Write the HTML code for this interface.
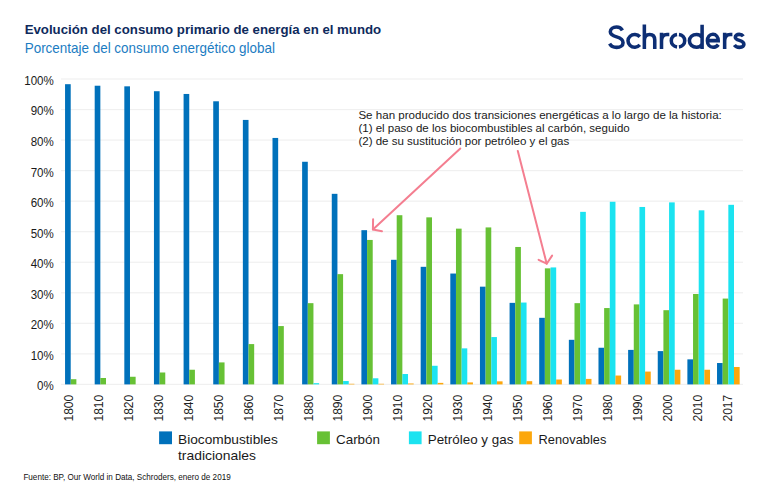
<!DOCTYPE html>
<html><head><meta charset="utf-8">
<style>
html,body{margin:0;padding:0;background:#fff;}
body{width:770px;height:488px;overflow:hidden;position:relative;font-family:"Liberation Sans",sans-serif;}
svg{position:absolute;left:0;top:0;}
svg text{font-family:"Liberation Sans",sans-serif;}
.yl{font-size:11.9px;fill:#1a1a1a;text-anchor:end;}
.xl{font-size:12.1px;fill:#222;}
.ann{font-size:11.55px;fill:#1a1a1a;}
.leg{font-size:13.5px;fill:#1a1a1a;}
</style></head>
<body>
<svg width="770" height="488" viewBox="0 0 770 488">
<rect width="770" height="488" fill="#fff"/>
<text x="24.7" y="34.2" font-size="13.6" font-weight="bold" fill="#0e2a5c" textLength="356.5" lengthAdjust="spacingAndGlyphs">Evolución del consumo primario de energía en el mundo</text>
<text x="24.7" y="52.8" font-size="13.9" fill="#1b7cc2" textLength="250.3" lengthAdjust="spacingAndGlyphs">Porcentaje del consumo energético global</text>
<g fill="none" stroke="#0d2e74" stroke-width="3.55" stroke-linecap="butt" stroke-linejoin="miter">
<path d="M622.4 30.4 C621.3 28.3 619.1 27.05 616.5 27.05 C613 27.05 610.3 28.9 610.3 31.8 C610.3 34.9 613.2 35.9 616.6 36.9 C620.6 38 623.05 39.4 623.05 42.7 C623.05 45.7 620.3 47.35 616.6 47.35 C613.4 47.35 610.9 45.9 609.6 43.6"/>
<path d="M639.83 36.77 A6.7 6.35 0 1 0 639.83 44.93"/>
<path d="M644.35 24.4 V49 M644.35 40.5 C644.35 36.3 646.6 34.4 649.7 34.4 C653 34.4 654.75 36.4 654.75 40 V49"/>
<path d="M661.5 32.7 V49 M661.5 41 C661.5 36.6 663.6 34.4 667 34.4 H669.3"/>
<path d="M678.95 34.46 A6.7 6.3 0 0 1 678.95 46.94 M677.05 34.46 A6.7 6.3 0 0 0 677.05 46.94"/>
<path d="M702.1 24.8 V49 M702.1 37.6 C700.9 35.4 698.9 34.4 696.6 34.4 C692.4 34.4 689.4 37.3 689.4 40.85 C689.4 44.4 692.4 47.3 696.6 47.3 C698.9 47.3 700.9 46.3 702.1 44.1"/>
<path d="M707.4 40.6 H718.2 C718.2 36.9 716 34.3 712.9 34.3 C709.7 34.3 707.4 37.2 707.4 40.85 C707.4 44.5 709.8 47.3 713 47.3 C715.3 47.3 717 46.4 718.3 44.6"/>
<path d="M724.65 32.7 V49 M724.65 41 C724.65 36.6 726.8 34.4 730.2 34.4 H732.4"/>
<path d="M743.3 36.3 C742.4 35 740.9 34.35 739.2 34.35 C736.9 34.35 735.3 35.6 735.3 37.3 C735.3 39.2 737.2 39.8 739.4 40.4 C742 41.1 743.9 42 743.9 44.3 C743.9 46.2 742 47.35 739.4 47.35 C737.3 47.35 735.4 46.5 734.4 45"/>
</g>

<rect x="61" y="383.8" width="682" height="1.2" fill="#f0f0f0"/>
<rect x="61" y="353.26" width="682" height="1.2" fill="#f0f0f0"/>
<rect x="61" y="322.72" width="682" height="1.2" fill="#f0f0f0"/>
<rect x="61" y="292.18" width="682" height="1.2" fill="#f0f0f0"/>
<rect x="61" y="261.64" width="682" height="1.2" fill="#f0f0f0"/>
<rect x="61" y="231.1" width="682" height="1.2" fill="#f0f0f0"/>
<rect x="61" y="200.56" width="682" height="1.2" fill="#f0f0f0"/>
<rect x="61" y="170.02" width="682" height="1.2" fill="#f0f0f0"/>
<rect x="61" y="139.48" width="682" height="1.2" fill="#f0f0f0"/>
<rect x="61" y="108.94" width="682" height="1.2" fill="#f0f0f0"/>
<rect x="61" y="78.4" width="682" height="1.2" fill="#f0f0f0"/>
<text transform="translate(53.8,390.3) scale(0.97,1)" class="yl">0%</text>
<text transform="translate(53.8,359.76) scale(0.97,1)" class="yl">10%</text>
<text transform="translate(53.8,329.22) scale(0.97,1)" class="yl">20%</text>
<text transform="translate(53.8,298.68) scale(0.97,1)" class="yl">30%</text>
<text transform="translate(53.8,268.14) scale(0.97,1)" class="yl">40%</text>
<text transform="translate(53.8,237.6) scale(0.97,1)" class="yl">50%</text>
<text transform="translate(53.8,207.06) scale(0.97,1)" class="yl">60%</text>
<text transform="translate(53.8,176.52) scale(0.97,1)" class="yl">70%</text>
<text transform="translate(53.8,145.98) scale(0.97,1)" class="yl">80%</text>
<text transform="translate(53.8,115.44) scale(0.97,1)" class="yl">90%</text>
<text transform="translate(53.8,84.9) scale(0.97,1)" class="yl">100%</text>
<rect x="65.05" y="84.19" width="5.66" height="300.21" fill="#0071bb"/>
<rect x="70.71" y="379.21" width="5.66" height="5.19" fill="#67c135"/>
<rect x="94.69" y="85.72" width="5.66" height="298.68" fill="#0071bb"/>
<rect x="100.34" y="377.99" width="5.66" height="6.41" fill="#67c135"/>
<rect x="124.32" y="86.33" width="5.66" height="298.07" fill="#0071bb"/>
<rect x="129.98" y="376.76" width="5.66" height="7.63" fill="#67c135"/>
<rect x="153.95" y="91.22" width="5.66" height="293.18" fill="#0071bb"/>
<rect x="159.61" y="372.49" width="5.66" height="11.91" fill="#67c135"/>
<rect x="183.59" y="93.96" width="5.66" height="290.44" fill="#0071bb"/>
<rect x="189.25" y="369.74" width="5.66" height="14.66" fill="#67c135"/>
<rect x="213.23" y="101.29" width="5.66" height="283.11" fill="#0071bb"/>
<rect x="218.89" y="362.41" width="5.66" height="21.99" fill="#67c135"/>
<rect x="242.86" y="119.92" width="5.66" height="264.48" fill="#0071bb"/>
<rect x="248.52" y="344.09" width="5.66" height="40.31" fill="#67c135"/>
<rect x="272.5" y="137.94" width="5.66" height="246.46" fill="#0071bb"/>
<rect x="278.16" y="326.07" width="5.66" height="58.33" fill="#67c135"/>
<rect x="302.13" y="161.76" width="5.66" height="222.64" fill="#0071bb"/>
<rect x="307.79" y="303.16" width="5.66" height="81.24" fill="#67c135"/>
<rect x="313.45" y="383.18" width="5.66" height="1.22" fill="#1be3f0"/>
<rect x="331.77" y="193.83" width="5.66" height="190.57" fill="#0071bb"/>
<rect x="337.43" y="274.15" width="5.66" height="110.25" fill="#67c135"/>
<rect x="343.09" y="381.04" width="5.66" height="3.36" fill="#1be3f0"/>
<rect x="348.75" y="383.79" width="5.66" height="0.61" fill="#fca70c"/>
<rect x="361.4" y="230.17" width="5.66" height="154.23" fill="#0071bb"/>
<rect x="367.06" y="239.95" width="5.66" height="144.45" fill="#67c135"/>
<rect x="372.72" y="378.29" width="5.66" height="6.11" fill="#1be3f0"/>
<rect x="378.38" y="383.79" width="5.66" height="0.61" fill="#fca70c"/>
<rect x="391.04" y="259.8" width="5.66" height="124.6" fill="#0071bb"/>
<rect x="396.7" y="215.21" width="5.66" height="169.19" fill="#67c135"/>
<rect x="402.36" y="374.02" width="5.66" height="10.38" fill="#1be3f0"/>
<rect x="408.02" y="383.48" width="5.66" height="0.92" fill="#fca70c"/>
<rect x="420.67" y="266.82" width="5.66" height="117.58" fill="#0071bb"/>
<rect x="426.33" y="217.35" width="5.66" height="167.05" fill="#67c135"/>
<rect x="431.99" y="365.77" width="5.66" height="18.63" fill="#1be3f0"/>
<rect x="437.65" y="382.87" width="5.66" height="1.53" fill="#fca70c"/>
<rect x="450.31" y="273.54" width="5.66" height="110.86" fill="#0071bb"/>
<rect x="455.97" y="228.65" width="5.66" height="155.75" fill="#67c135"/>
<rect x="461.62" y="348.36" width="5.66" height="36.04" fill="#1be3f0"/>
<rect x="467.29" y="382.41" width="5.66" height="1.99" fill="#fca70c"/>
<rect x="479.94" y="286.67" width="5.66" height="97.73" fill="#0071bb"/>
<rect x="485.6" y="227.42" width="5.66" height="156.98" fill="#67c135"/>
<rect x="491.26" y="337.06" width="5.66" height="47.34" fill="#1be3f0"/>
<rect x="496.92" y="381.35" width="5.66" height="3.05" fill="#fca70c"/>
<rect x="509.58" y="302.86" width="5.66" height="81.54" fill="#0071bb"/>
<rect x="515.24" y="246.97" width="5.66" height="137.43" fill="#67c135"/>
<rect x="520.9" y="302.55" width="5.66" height="81.85" fill="#1be3f0"/>
<rect x="526.56" y="381.19" width="5.66" height="3.21" fill="#fca70c"/>
<rect x="539.21" y="317.82" width="5.66" height="66.58" fill="#0071bb"/>
<rect x="544.87" y="268.35" width="5.66" height="116.05" fill="#67c135"/>
<rect x="550.53" y="267.43" width="5.66" height="116.97" fill="#1be3f0"/>
<rect x="556.19" y="379.51" width="5.66" height="4.89" fill="#fca70c"/>
<rect x="568.85" y="339.81" width="5.66" height="44.59" fill="#0071bb"/>
<rect x="574.5" y="303.16" width="5.66" height="81.24" fill="#67c135"/>
<rect x="580.17" y="211.85" width="5.66" height="172.55" fill="#1be3f0"/>
<rect x="585.83" y="378.9" width="5.66" height="5.5" fill="#fca70c"/>
<rect x="598.48" y="347.75" width="5.66" height="36.65" fill="#0071bb"/>
<rect x="604.14" y="308.05" width="5.66" height="76.35" fill="#67c135"/>
<rect x="609.8" y="201.77" width="5.66" height="182.63" fill="#1be3f0"/>
<rect x="615.46" y="375.54" width="5.66" height="8.86" fill="#fca70c"/>
<rect x="628.12" y="349.89" width="5.66" height="34.51" fill="#0071bb"/>
<rect x="633.77" y="304.39" width="5.66" height="80.01" fill="#67c135"/>
<rect x="639.44" y="206.96" width="5.66" height="177.44" fill="#1be3f0"/>
<rect x="645.1" y="371.57" width="5.66" height="12.83" fill="#fca70c"/>
<rect x="657.75" y="351.11" width="5.66" height="33.29" fill="#0071bb"/>
<rect x="663.41" y="310.19" width="5.66" height="74.21" fill="#67c135"/>
<rect x="669.07" y="202.38" width="5.66" height="182.02" fill="#1be3f0"/>
<rect x="674.73" y="369.74" width="5.66" height="14.66" fill="#fca70c"/>
<rect x="687.38" y="359.36" width="5.66" height="25.04" fill="#0071bb"/>
<rect x="693.04" y="294" width="5.66" height="90.4" fill="#67c135"/>
<rect x="698.71" y="210.32" width="5.66" height="174.08" fill="#1be3f0"/>
<rect x="704.37" y="369.74" width="5.66" height="14.66" fill="#fca70c"/>
<rect x="717.02" y="363.02" width="5.66" height="21.38" fill="#0071bb"/>
<rect x="722.68" y="298.58" width="5.66" height="85.82" fill="#67c135"/>
<rect x="728.34" y="204.82" width="5.66" height="179.58" fill="#1be3f0"/>
<rect x="734" y="366.99" width="5.66" height="17.41" fill="#fca70c"/>
<text transform="translate(72.85,421.6) rotate(-90)" class="xl">1800</text>
<text transform="translate(102.81,421.6) rotate(-90)" class="xl">1810</text>
<text transform="translate(132.77,421.6) rotate(-90)" class="xl">1820</text>
<text transform="translate(162.73,421.6) rotate(-90)" class="xl">1830</text>
<text transform="translate(192.69,421.6) rotate(-90)" class="xl">1840</text>
<text transform="translate(222.65,421.6) rotate(-90)" class="xl">1850</text>
<text transform="translate(252.61,421.6) rotate(-90)" class="xl">1860</text>
<text transform="translate(282.57,421.6) rotate(-90)" class="xl">1870</text>
<text transform="translate(312.53,421.6) rotate(-90)" class="xl">1880</text>
<text transform="translate(342.49,421.6) rotate(-90)" class="xl">1890</text>
<text transform="translate(372.45,421.6) rotate(-90)" class="xl">1900</text>
<text transform="translate(402.41,421.6) rotate(-90)" class="xl">1910</text>
<text transform="translate(432.37,421.6) rotate(-90)" class="xl">1920</text>
<text transform="translate(462.33,421.6) rotate(-90)" class="xl">1930</text>
<text transform="translate(492.29,421.6) rotate(-90)" class="xl">1940</text>
<text transform="translate(522.25,421.6) rotate(-90)" class="xl">1950</text>
<text transform="translate(552.21,421.6) rotate(-90)" class="xl">1960</text>
<text transform="translate(582.17,421.6) rotate(-90)" class="xl">1970</text>
<text transform="translate(612.13,421.6) rotate(-90)" class="xl">1980</text>
<text transform="translate(642.09,421.6) rotate(-90)" class="xl">1990</text>
<text transform="translate(672.05,421.6) rotate(-90)" class="xl">2000</text>
<text transform="translate(702.01,421.6) rotate(-90)" class="xl">2010</text>
<text transform="translate(731.97,421.6) rotate(-90)" class="xl">2017</text>
<rect x="356.5" y="137" width="184" height="6" fill="#fff"/>
<text x="358.4" y="118.6" class="ann" textLength="363.4" lengthAdjust="spacingAndGlyphs">Se han producido dos transiciones energéticas a lo largo de la historia:</text>
<text x="358.4" y="131.6" class="ann" textLength="271.3" lengthAdjust="spacingAndGlyphs">(1) el paso de los biocombustibles al carbón, seguido</text>
<text x="358.4" y="144.6" class="ann" textLength="210.9" lengthAdjust="spacingAndGlyphs">(2) de su sustitución por petróleo y el gas</text>
<g stroke="#f47e90" stroke-width="2" fill="none" stroke-linecap="round" stroke-linejoin="round">
<path d="M460.3 148.5 L372.9 229.4"/>
<path d="M373.1 219.2 L372.9 229.4 L382 231.2"/>
<path d="M517.8 150.9 L546.7 263.7"/>
<path d="M538.6 259.8 L546.7 263.7 L552.1 255.6"/>
</g>
<rect x="159.1" y="431.4" width="12.9" height="12.8" fill="#0071bb"/>
<rect x="317.1" y="431.4" width="12.8" height="12.8" fill="#67c135"/>
<rect x="408.9" y="431.4" width="12.7" height="12.8" fill="#1be3f0"/>
<rect x="519.2" y="431.4" width="12.7" height="12.8" fill="#fca70c"/>
<text x="178" y="443.7" class="leg" textLength="99.8" lengthAdjust="spacingAndGlyphs">Biocombustibles</text>
<text x="178" y="459.6" class="leg" textLength="78" lengthAdjust="spacingAndGlyphs">tradicionales</text>
<text x="336" y="443.7" class="leg" textLength="44" lengthAdjust="spacingAndGlyphs">Carbón</text>
<text x="427.7" y="443.7" class="leg" textLength="85.7" lengthAdjust="spacingAndGlyphs">Petróleo y gas</text>
<text x="538.6" y="443.7" class="leg" textLength="67.7" lengthAdjust="spacingAndGlyphs">Renovables</text>
<text x="23.4" y="479.5" font-size="8.6" fill="#111" textLength="207.3" lengthAdjust="spacingAndGlyphs">Fuente: BP, Our World in Data, Schroders, enero de 2019</text>
</svg>
</body></html>
